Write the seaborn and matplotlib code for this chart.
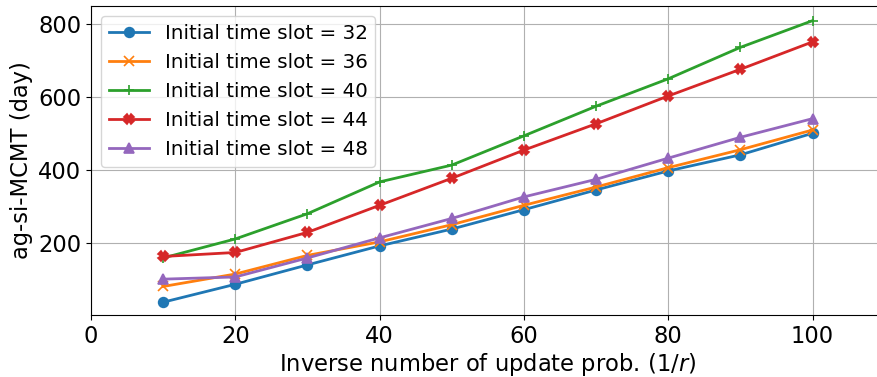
import numpy as np
import pandas as pd
import matplotlib
matplotlib.use("Agg")
import matplotlib.pyplot as plt
import seaborn as sns

# Inverse update probability (1/r)
inv_r = [10, 20, 30, 40, 50, 60, 70, 80, 90, 100]

# ag-si-MCMT (days) for each initial time slot
slot_32 = [39, 88, 141, 193, 239, 292, 346, 398, 442, 501]
slot_36 = [82, 116, 167, 204, 251, 304, 354, 407, 456, 510]
slot_40 = [160, 212, 281, 368, 414, 494, 575, 650, 736, 809]
slot_44 = [164, 175, 230, 304, 378, 455, 527, 603, 676, 751]
slot_48 = [102, 108, 160, 215, 268, 327, 375, 433, 490, 541]

slots = [32, 36, 40, 44, 48]
series = [slot_32, slot_36, slot_40, slot_44, slot_48]
markers = ["o", "x", "+", "X", "^"]

records = []
for s, vals in zip(slots, series):
    for x, v in zip(inv_r, vals):
        records.append({"inv_r": x, "mcmt": v, "label": f"Initial time slot = {s}"})
df = pd.DataFrame(records)

plt.rcParams.update({"font.family": ["DejaVu Sans"]})
colors = sns.color_palette("tab10", 5)

fig = plt.figure(figsize=(8.77, 3.77), dpi=100)
ax = fig.add_axes([0.1038, 0.1645, 0.905, 0.8195])

for (s, mk, c) in zip(slots, markers, colors):
    lab = f"Initial time slot = {s}"
    sub = df[df["label"] == lab]
    sns.lineplot(data=sub, x="inv_r", y="mcmt", ax=ax, color=c, marker=mk,
                 markersize=7, markeredgecolor=c, markeredgewidth=1.2,
                 linewidth=2, label=lab)

ax.set_xlim(0, 110)
ax.set_ylim(4, 849)
ax.set_xticks([0, 20, 40, 60, 80, 100])
ax.set_yticks([200, 400, 600, 800])
ax.grid(True, color="#b0b0b0", linewidth=0.8)
ax.set_axisbelow(True)
ax.tick_params(labelsize=16.3)
ax.set_xlabel(r"Inverse number of update prob. (1/$r$)", fontsize=16.3, labelpad=2.5)
ax.set_ylabel("ag-si-MCMT (day)", fontsize=16.3)
ax.legend(loc="upper left", fontsize=14.3)

fig.savefig("out.png", dpi=100)
